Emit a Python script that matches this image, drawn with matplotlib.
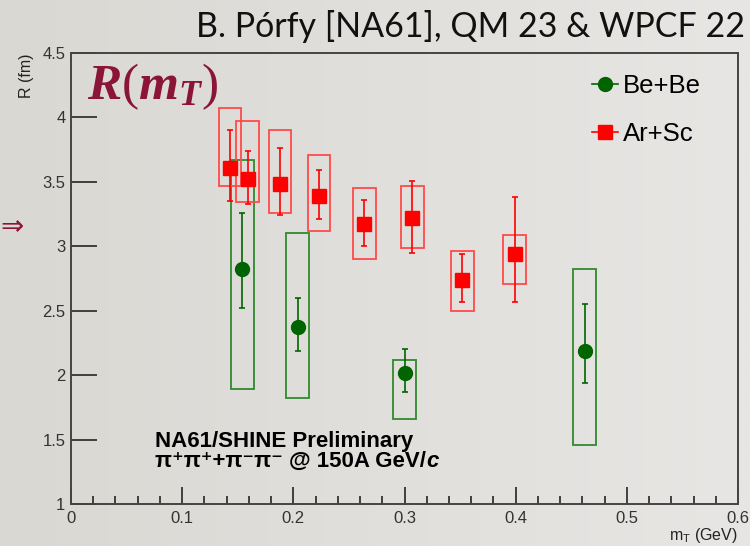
import numpy as np
import matplotlib
matplotlib.use('Agg')
import matplotlib.pyplot as plt
from matplotlib.lines import Line2D

plt.rcParams['font.family'] = ['Liberation Sans', 'DejaVu Sans']
plt.rcParams['mathtext.fontset'] = 'custom'
plt.rcParams['mathtext.it'] = 'Liberation Serif:italic:bold'
plt.rcParams['mathtext.rm'] = 'Liberation Serif'

# Ar+Sc points (red squares)
arsc_x = [0.143, 0.159, 0.188, 0.223, 0.264, 0.307, 0.352, 0.399]
arsc_y = [3.61, 3.52, 3.48, 3.39, 3.17, 3.22, 2.74, 2.94]
arsc_stat_lo = [3.35, 3.33, 3.24, 3.21, 3.00, 2.95, 2.57, 2.57]
arsc_stat_hi = [3.90, 3.74, 3.76, 3.59, 3.36, 3.51, 2.94, 3.38]
arsc_sys_lo = [3.47, 3.34, 3.26, 3.12, 2.90, 2.99, 2.50, 2.71]
arsc_sys_hi = [4.07, 3.97, 3.90, 3.71, 3.45, 3.47, 2.96, 3.09]

# Be+Be points (green circles)
bebe_x = [0.154, 0.204, 0.300, 0.462]
bebe_y = [2.82, 2.37, 2.02, 2.19]
bebe_stat_lo = [2.52, 2.19, 1.87, 1.94]
bebe_stat_hi = [3.26, 2.60, 2.20, 2.55]
bebe_sys_lo = [1.89, 1.82, 1.66, 1.46]
bebe_sys_hi = [3.67, 3.10, 2.12, 2.82]

red = '#ff0000'
green = '#006400'
wine = '#8a1538'

fig = plt.figure(figsize=(7.5, 5.46), dpi=100)

# slide background, slight left-to-right gradient
bg = fig.add_axes([0, 0, 1, 1], zorder=-10)
grad = np.linspace(0, 1, 256).reshape(1, -1)
c0 = np.array([218, 216, 211]) / 255
c1 = np.array([231, 230, 228]) / 255
img = c0[None, None, :] * (1 - grad[..., None]) + c1[None, None, :] * grad[..., None]
bg.imshow(img, aspect='auto', extent=[0, 1, 0, 1])
bg.axis('off')

ax = fig.add_axes([0.0947, 0.0769, 0.8893, 0.826])
ax.patch.set_alpha(0)

def draw(x, y, slo, shi, ylo, yhi, color, boxcolor, marker):
    x = np.array(x); y = np.array(y)
    ax.bar(x, np.array(yhi) - np.array(ylo), bottom=ylo, width=0.0205,
           fill=False, edgecolor=boxcolor, linewidth=1.3, zorder=2)
    ax.errorbar(x, y, yerr=[y - np.array(slo), np.array(shi) - y], fmt=marker,
                color=color, ms=10, elinewidth=1.2, capsize=2.5, capthick=1.2,
                zorder=3)

draw(bebe_x, bebe_y, bebe_stat_lo, bebe_stat_hi, bebe_sys_lo, bebe_sys_hi,
     green, '#2f8a2f', 'o')
draw(arsc_x, arsc_y, arsc_stat_lo, arsc_stat_hi, arsc_sys_lo, arsc_sys_hi,
     red, '#ff4a4a', 's')

ax.set_xlim(0, 0.6)
ax.set_ylim(1, 4.5)
ax.set_xticks(np.arange(0, 0.61, 0.1))
ax.set_xticklabels(['0', '0.1', '0.2', '0.3', '0.4', '0.5', '0.6'])
ax.set_xticks(np.arange(0, 0.6, 0.02), minor=True)
ax.set_yticks(np.arange(1, 4.51, 0.5))
ax.set_yticklabels(['1', '1.5', '2', '2.5', '3', '3.5', '4', '4.5'])
ax.tick_params(axis='x', which='major', direction='in', length=12, width=1.3,
               colors='#333333', labelsize=12, pad=5)
ax.tick_params(axis='x', which='minor', direction='in', length=6, width=1.3,
               colors='#333333')
ax.tick_params(axis='y', which='major', direction='in', length=19, width=1.3,
               colors='#333333', labelsize=12, pad=4)
for s in ax.spines.values():
    s.set_color('#444444')
    s.set_linewidth(1.4)

ax.set_ylabel('R (fm)', fontsize=11.5, color='#222222', loc='top', labelpad=6)
ax.set_xlabel(r'm$_\mathregular{T}$ (GeV)', fontsize=11.5, color='#222222',
              loc='right', labelpad=0)

handles = [Line2D([], [], color=green, marker='o', ms=10, lw=1.2),
           Line2D([], [], color=red, marker='s', ms=10, lw=1.2)]
ax.legend(handles, ['Be+Be', 'Ar+Sc'], loc='upper left', frameon=False,
          fontsize=18.5, labelspacing=0.92, handlelength=1.0,
          handletextpad=0.2, borderpad=0, borderaxespad=0,
          bbox_to_anchor=(592 / 750, 1 - 74 / 546),
          bbox_transform=fig.transFigure)

ax.text(0.0756, 1.443, 'NA61/SHINE Preliminary', fontsize=16, fontweight='bold',
        va='baseline')
t = ax.text(0.0756, 1.286, 'π⁺π⁺+π⁻π⁻ @ 150A GeV/', fontsize=16,
            fontweight='bold', va='baseline',
            family=['Liberation Sans', 'DejaVu Sans'])
ax.annotate('c', xy=(1, 0), xycoords=t, va='bottom', fontsize=16,
            fontweight='bold', fontstyle='italic')

ax.text(0.014, 4.14, r'$R(m_T)$', fontsize=37, color=wine)

fig.text(0.994, 0.932, 'B. Pórfy [NA61], QM 23 & WPCF 22', ha='right',
         va='baseline', fontsize=24.5, family='Lato', color='#111111')
fig.text(0.0, 0.584, '⇒', fontsize=20, color=wine, va='center',
         family='DejaVu Sans')

fig.savefig('out.png', dpi=100)
